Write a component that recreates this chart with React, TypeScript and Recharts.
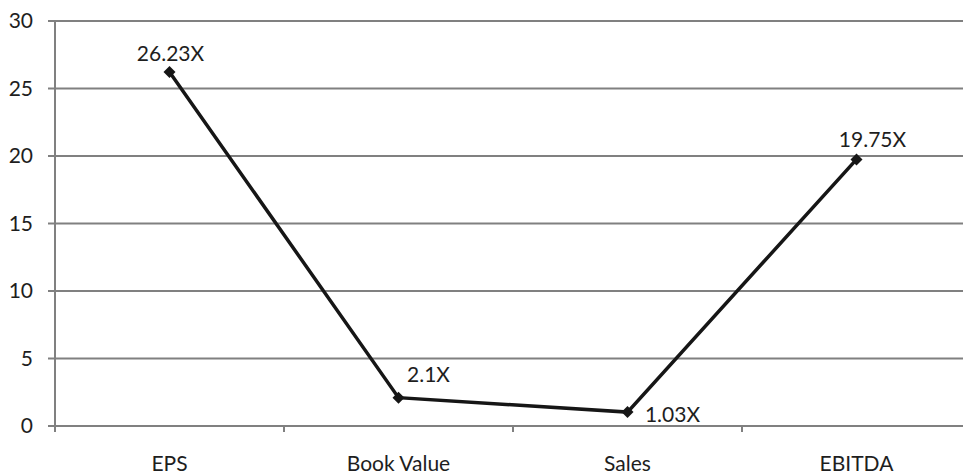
import { LineChart, Line, XAxis, YAxis, CartesianGrid, LabelList } from 'recharts';

const categories = ['EPS', 'Book Value', 'Sales', 'EBITDA'];
const multiples = [26.23, 2.1, 1.03, 19.75];
const valueLabels = ['26.23X', '2.1X', '1.03X', '19.75X'];
const yTicks = [0, 5, 10, 15, 20, 25, 30];

const data = categories.map((name, i) => ({ name, value: multiples[i], label: valueLabels[i] }));

// where each value label sits relative to its point
const labelOffsets = [
  { dx: 1, dy: -19 },
  { dx: 30, dy: -24 },
  { dx: 45, dy: 1 },
  { dx: 16, dy: -21 },
];

const CHART_W = 980;
const LEFT = 55;
const RIGHT = 9;
const band = (CHART_W - LEFT - RIGHT) / categories.length;
const FONT = 'Lato, "Open Sans", sans-serif';
const FS = 21;
const TEXT = '#1e1e1e';
const GRID = '#808080';

const Diamond = (props: any) => {
  const { cx, cy } = props;
  if (cx == null || cy == null) return null;
  const r = 6;
  return (
    <polygon
      points={`${cx},${cy - r} ${cx + r},${cy} ${cx},${cy + r} ${cx - r},${cy}`}
      fill="#161616"
    />
  );
};

const XTick = (props: any) => {
  const { x, y, payload } = props;
  const left = x - band / 2;
  const axisY = y - 8;
  return (
    <g>
      <line x1={left} y1={axisY} x2={left} y2={axisY + 6} stroke={GRID} strokeWidth={2} />
      <text x={x} y={axisY + 36} textAnchor="middle" dominantBaseline="central" fontFamily={FONT} fontSize={FS} fill={TEXT}>
        {payload.value}
      </text>
    </g>
  );
};

const ValueLabel = (props: any) => {
  const { x, y, value, index } = props;
  const off = labelOffsets[index] || { dx: 0, dy: -18 };
  return (
    <text x={x + off.dx} y={y + off.dy} textAnchor="middle" dominantBaseline="central" fontFamily={FONT} fontSize={FS} fill={TEXT}>
      {value}
    </text>
  );
};

export default function App() {
  return (
    <div style={{ position: 'absolute', left: 0, top: 0, width: 963, height: 474, overflow: 'hidden', background: '#fff' }}>
      <LineChart width={CHART_W} height={474} data={data} margin={{ top: 21, right: RIGHT, bottom: 0, left: 0 }}>
        <CartesianGrid vertical={false} stroke={GRID} strokeWidth={2} />
        <XAxis
          dataKey="name"
          scale="band"
          height={48}
          axisLine={{ stroke: GRID, strokeWidth: 2 }}
          tickLine={false}
          tick={<XTick />}
          interval={0}
        />
        <YAxis
          domain={[0, 30]}
          ticks={yTicks}
          width={LEFT}
          axisLine={{ stroke: GRID, strokeWidth: 2 }}
          tickLine={{ stroke: GRID, strokeWidth: 2 }}
          tickSize={7}
          tickMargin={15}
          tick={{ fontFamily: FONT, fontSize: FS, fill: TEXT }}
        />
        <Line
          type="linear"
          dataKey="value"
          stroke="#161616"
          strokeWidth={3.5}
          dot={<Diamond />}
          activeDot={false}
          isAnimationActive={false}
        >
          <LabelList dataKey="label" content={<ValueLabel />} />
        </Line>
      </LineChart>
    </div>
  );
}
